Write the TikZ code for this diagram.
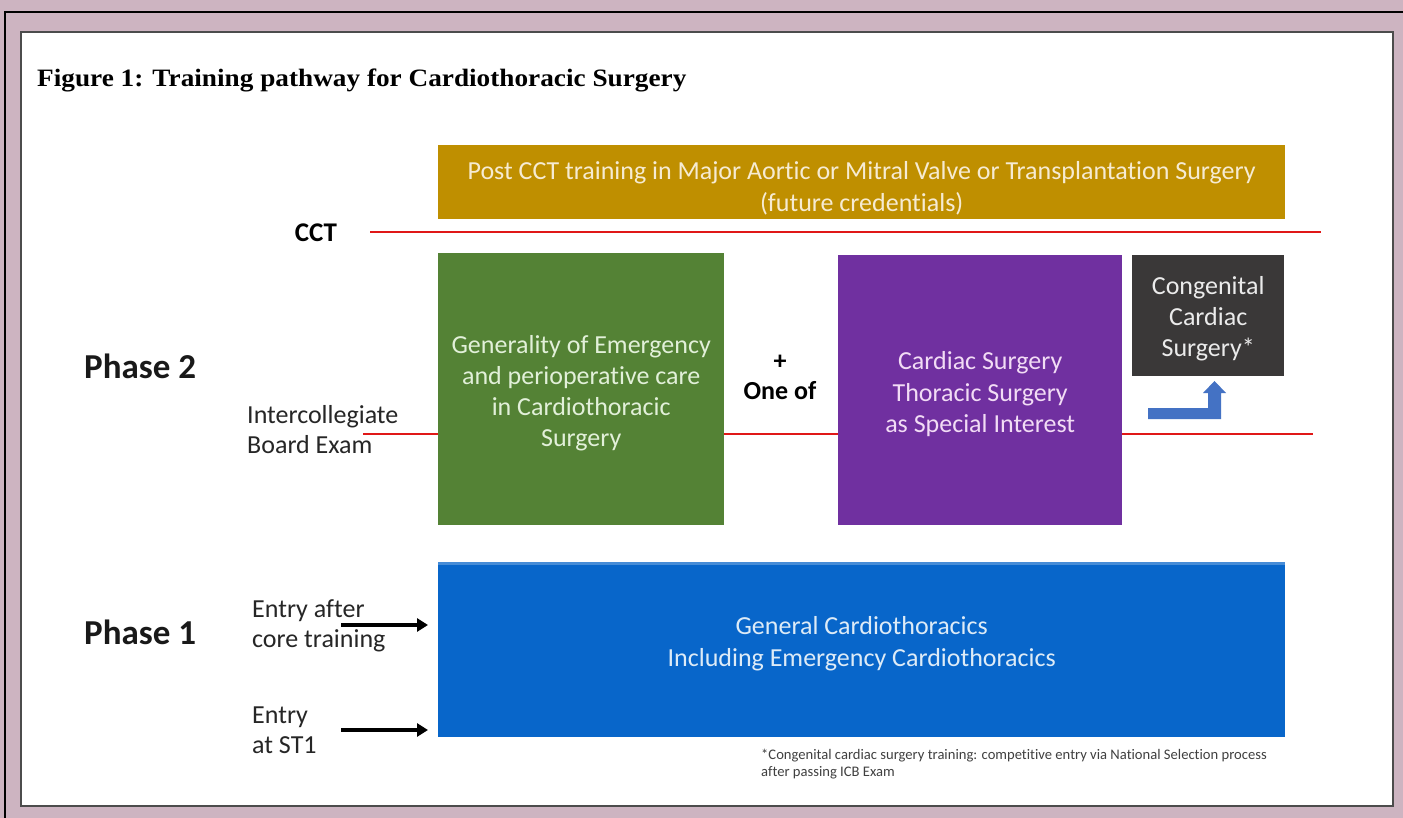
\documentclass[tikz,border=0pt]{standalone}
\usepackage{fontspec}
\setmainfont{Carlito}[Ligatures=NoCommon]
\newfontfamily\titlefont{Liberation Serif}
\usetikzlibrary{arrows.meta}
\definecolor{pinkbg}{HTML}{CDB4C1}
\definecolor{goldbox}{HTML}{BF8F00}
\definecolor{grnbox}{HTML}{548235}
\definecolor{purpbox}{HTML}{7030A0}
\definecolor{darkbox}{HTML}{3A3838}
\definecolor{bluebox}{HTML}{0866CA}
\definecolor{arrowblue}{HTML}{4472C4}
\definecolor{redline}{HTML}{E01818}
\definecolor{goldtxt}{HTML}{F6EBD2}
\definecolor{grntxt}{HTML}{E2F0D9}
\definecolor{purptxt}{HTML}{F2DCF5}
\definecolor{bluetxt}{HTML}{DDEBF7}
\definecolor{notetxt}{HTML}{404040}
\tikzset{
  box/.style={rectangle, anchor=north west, inner sep=0pt, draw=none},
  boxtext/.style={inner sep=0pt, align=center, font=\fontsize{26}{31.3}\selectfont},
  lbl/.style={inner sep=0pt, align=left, anchor=west, font=\fontsize{26}{30}\selectfont, text=black!85},
  phase/.style={inner sep=0pt, anchor=west, font=\fontsize{35}{40}\selectfont\bfseries, text=black!90},
  redl/.style={draw=redline, line width=2pt},
  entry/.style={draw=black, line width=3.2pt, -{Triangle[length=11pt,width=13pt]}, shorten >=10pt}
}
\begin{document}
\begin{tikzpicture}[x=1pt,y=-1pt]
\useasboundingbox (0,0) rectangle (1403,818);
\fill[pinkbg] (0,0) rectangle (1403,818);
\draw[black, line width=1.2pt] (5,818) -- (5,12) -- (1403,12);
\draw[fill=white, draw=black!70, line width=1.5pt] (21,32) rectangle (1393,806);

% title
\node[inner sep=0pt, anchor=west, font=\titlefont\fontsize{25}{30}\selectfont\bfseries] (title) at (37,80)
  {\scalebox{1.09}[1]{Figure 1: Training pathway for Cardiothoracic Surgery}};

% boxes
\node[box, fill=goldbox, minimum width=847pt, minimum height=74pt] (post) at (438,145) {};
\node[boxtext, text=goldtxt] (posttxt) at ([yshift=-6pt]post.center)
  {Post CCT training in Major Aortic or Mitral Valve or Transplantation Surgery\\(future credentials)};
\node[box, fill=grnbox, minimum width=286pt, minimum height=272pt] (gen) at (438,253) {};
\node[boxtext, text=grntxt] (gentxt) at ([yshift=-4pt]gen.center)
  {Generality of Emergency\\and perioperative care\\in Cardiothoracic\\Surgery};
\node[box, fill=purpbox, minimum width=284pt, minimum height=270pt] (spec) at (838,255) {};
\node[boxtext, text=purptxt] (spectxt) at ([yshift=-4pt]spec.center)
  {Cardiac Surgery\\Thoracic Surgery\\as Special Interest};
\node[box, fill=darkbox, minimum width=152pt, minimum height=121pt] (cong) at (1132,255) {};
\node[boxtext, text=white!92!black] (congtxt) at ([yshift=-3pt]cong.center)
  {Congenital\\Cardiac\\Surgery*};
\node[box, fill=bluebox, minimum width=847pt, minimum height=175pt] (phase1box) at (438,562) {};
\fill[bluebox!75!white] (phase1box.north west) rectangle ([yshift=-3pt]phase1box.north east);
\node[boxtext, text=bluetxt] (phase1txt) at ([yshift=6pt]phase1box.center)
  {General Cardiothoracics\\Including Emergency Cardiothoracics};

% labels
\node[inner sep=0pt, font=\fontsize{27}{30}\selectfont\bfseries] (cct) at (316,233) {CCT};
\node[phase] (ph2) at (84,366) {Phase 2};
\node[phase] (ph1) at (84,632) {Phase 1};
\node[lbl] (icb) at (247,430) {Intercollegiate\\Board Exam};
\node[inner sep=0pt, align=center, font=\fontsize{26}{30}\selectfont\bfseries] (oneof) at (780,377) {+\\One of};
\node[lbl] (entry1) at (252,626) {Entry after\\core training};
\node[lbl] (entry2) at (252,730) {Entry\\at ST1};
\node[inner sep=0pt, anchor=north west, align=left, text=notetxt, font=\fontsize{14.6}{17}\selectfont] (note) at (761,749)
  {*Congenital cardiac surgery training: competitive entry via National Selection process\\after passing ICB Exam};

% red lines
\coordinate (cctL) at (370,232);
\coordinate (cctR) at (1321,232);
\draw[redl] (cctL) -- (cctR);
\coordinate (icbL) at (363,434);
\coordinate (icbR) at (1313,434);
\draw[redl] (icbL) -- (gen.west |- icbL);
\draw[redl] (gen.east |- icbL) -- (spec.west |- icbL);
\draw[redl] (spec.east |- icbL) -- (icbR);

% entry arrows
\coordinate (e1s) at (341,625);
\coordinate (e2s) at (341,730);
\draw[entry] (e1s) -- (phase1box.west |- e1s);
\draw[entry] (e2s) -- (phase1box.west |- e2s);

% blue bent arrow
\fill[arrowblue] (1148,408) -- (1208,408) -- (1208,393) -- (1203,393) -- (1214.5,381) -- (1226,393) -- (1221,393) -- (1221,419) -- (1148,419) -- cycle;
\end{tikzpicture}
\end{document}
